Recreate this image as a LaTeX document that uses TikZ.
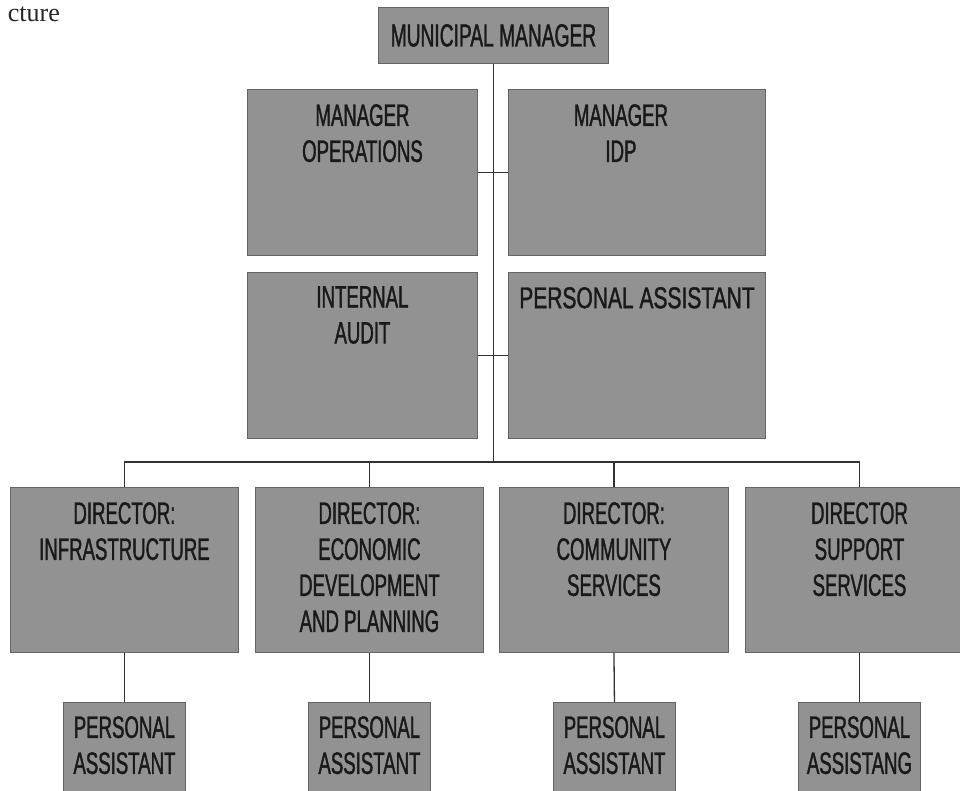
\documentclass[tikz,border=0pt]{standalone}
\usepackage{fontspec}
\setmainfont{Liberation Serif}
\newfontfamily\narrowfont[FakeStretch=0.6,FakeBold=1.2]{Liberation Sans}
\newfontfamily\narrowwide[FakeStretch=0.7,FakeBold=1.2]{Liberation Sans}
\newfontfamily\scanserif{Liberation Serif}
\definecolor{boxgray}{RGB}{146,146,146}
\definecolor{boxedge}{RGB}{100,100,100}
\definecolor{linecol}{RGB}{50,50,50}
\begin{document}
\begin{tikzpicture}[x=1pt,y=-1pt,
  orgbox/.style={draw=boxedge, line width=0.9pt, fill=boxgray, inner sep=0pt,
    anchor=north west, rectangle},
  bigbox/.style={orgbox, minimum width=#1, minimum height=166pt},
  dirbox/.style={orgbox, minimum width=228pt, minimum height=165pt},
  pabox/.style={orgbox, minimum width=122pt, minimum height=110pt},
  boxtext/.style={font=\narrowfont\fontsize{31}{36}\selectfont, text=black!90,
    align=center, inner sep=0pt, anchor=north},
  wire/.style={draw=linecol, line width=1.3pt}
]
\useasboundingbox (0,0) rectangle (960,791);
\fill[white] (0,0) rectangle (960,791);
\clip (0,0) rectangle (960,791);

% heading fragment
\node[font=\scanserif\fontsize{26}{30}\selectfont, text=black!85, anchor=base east, inner sep=0pt] (head) at (60,22) {cture};

% top
\node[orgbox, minimum width=230pt, minimum height=56pt,
  font=\narrowfont\fontsize{32}{36}\selectfont, text=black!90] (mm) at (378,7) {MUNICIPAL MANAGER};

% managers
\node[bigbox=230pt, label={[boxtext, yshift=-15pt]north:{MANAGER\\OPERATIONS}}] (mo) at (247,89) {};
\node[bigbox=257pt, label={[boxtext, yshift=-15pt, xshift=-16pt]north:{MANAGER\\IDP}}] (midp) at (508,89) {};
\node[bigbox=230pt, label={[boxtext, yshift=-14pt]north:{INTERNAL\\AUDIT}}] (ia) at (247,272) {};
\node[bigbox=257pt, label={[boxtext, font=\narrowwide\fontsize{30}{36}\selectfont, yshift=-15pt]north:{PERSONAL ASSISTANT}}] (pa) at (508,272) {};

% directors
\node[dirbox, label={[boxtext, yshift=-15pt]north:{DIRECTOR:\\INFRASTRUCTURE}}] (d1) at (10,487) {};
\node[dirbox, label={[boxtext, yshift=-15pt]north:{DIRECTOR:\\ECONOMIC\\DEVELOPMENT\\AND PLANNING}}] (d2) at (255,487) {};
\node[dirbox, minimum width=229pt, label={[boxtext, yshift=-15pt]north:{DIRECTOR:\\COMMUNITY\\SERVICES}}] (d3) at (499,487) {};
\node[dirbox, label={[boxtext, yshift=-15pt]north:{DIRECTOR\\SUPPORT\\SERVICES}}] (d4) at (745,487) {};

% personal assistants
\node[pabox, label={[boxtext, yshift=-14pt]north:{PERSONAL\\ASSISTANT}}] (p1) at (63,702) {};
\node[pabox, label={[boxtext, yshift=-14pt]north:{PERSONAL\\ASSISTANT}}] (p2) at (308,702) {};
\node[pabox, label={[boxtext, yshift=-14pt]north:{PERSONAL\\ASSISTANT}}] (p3) at (553,702) {};
\node[pabox, label={[boxtext, yshift=-14pt]north:{PERSONAL\\ASSISTANG}}] (p4) at (798,702) {};

% connectors
\coordinate (bus) at (mm.south |- 0,462);
\draw[wire] (mm.south) -- (bus);
\draw[wire] (mo.east) -- (midp.west);
\draw[wire] (ia.east) -- (pa.west);
\draw[wire] (d1.north) |- (bus) -| (d4.north);
\draw[wire] (d2.north) -- (d2.north |- bus);
\draw[wire] (d3.north) -- (d3.north |- bus);
\draw[wire] (d1.south) -- (p1.north);
\draw[wire] (d2.south) -- (p2.north);
\draw[wire] (d3.south) -- (p3.north);
\draw[wire] (d4.south) -- (p4.north);
\end{tikzpicture}
\end{document}
